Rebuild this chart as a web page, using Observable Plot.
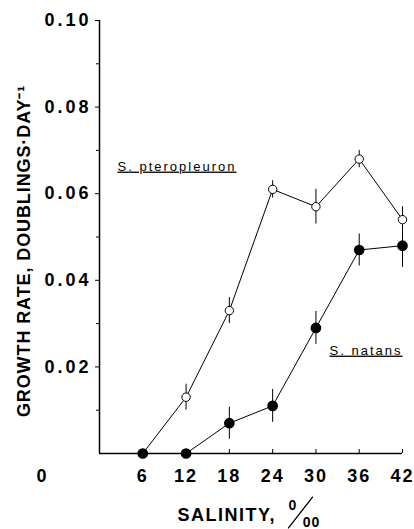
<!DOCTYPE html>
<html><head><meta charset="utf-8">
<script src="https://cdn.jsdelivr.net/npm/d3@7"></script>
<script src="https://cdn.jsdelivr.net/npm/@observablehq/plot@0.6"></script>
<style>
html,body{margin:0;padding:0;background:#fff;}
svg text{font-family:"Liberation Sans",Arial,sans-serif;}
g[aria-label="y-axis tick label"] text{letter-spacing:3px;}
g[aria-label="x-axis tick label"] text{letter-spacing:2px;}
</style></head><body><div id="chart"></div>
<script>
// Salinity (‰) and growth rate (doublings·day⁻¹)
const salinity = [6, 12, 18, 24, 30, 36, 42];
const pteroRate = [0, 0.013, 0.033, 0.061, 0.057, 0.068, 0.054];
const pteroErr  = [0, 0.003, 0.003, 0.002, 0.004, 0.002, 0.003];
const natansRate = [0, 0, 0.007, 0.011, 0.029, 0.047, 0.048];
const natansErr  = [0, 0, 0.0037, 0.0038, 0.0038, 0.0037, 0.005];
const seriesNames = ["S. pteropleuron", "S. natans"];
const xTicks = [6, 12, 18, 24, 30, 36, 42];
const xZero = [0];
const yMajor = [0.02, 0.04, 0.06, 0.08, 0.10];
const yMinor = [0.01, 0.03, 0.05, 0.07, 0.09];
const yTitle = "GROWTH RATE, DOUBLINGS·DAY⁻¹";
const xTitle = "SALINITY,";
const xUnitTop = "0";
const xUnitBottom = "00";

const ptero = salinity.map((s, i) => ({s, v: pteroRate[i], e: pteroErr[i]}));
const natans = salinity.map((s, i) => ({s, v: natansRate[i], e: natansErr[i]}));

const font = {fontWeight: "bold", fill: "black", lineAnchor: "middle"};

const chart = Plot.plot({
  width: 414, height: 529,
  marginTop: 20, marginBottom: 76, marginLeft: 99, marginRight: 12,
  style: {fontFamily: "Liberation Sans, Arial, sans-serif", color: "black", background: "white", overflow: "visible"},
  x: {domain: [0, 42]},
  y: {domain: [0, 0.10]},
  marks: [
    Plot.ruleX([0], {y1: 0, y2: 0.1, strokeWidth: 1.5}),
    Plot.ruleY([0], {x1: 0, x2: 42, strokeWidth: 1.5}),
    Plot.tickX(xTicks, {x: d => d, insetTop: 429, strokeWidth: 1}),
    Plot.axisX({ticks: xTicks, tickSize: 0, tickPadding: 16, fontSize: 18, fontWeight: "bold", tickFormat: d => String(d), label: null}),
    Plot.text(xZero, {x: d => d, frameAnchor: "bottom", textAnchor: "middle", dx: -58, dy: 23, text: d => String(d), fontSize: 18, ...font}),
    Plot.axisY({ticks: yMajor, tickSize: 4, tickPadding: 4, fontSize: 18, fontWeight: "bold", tickFormat: d3.format(".2f"), label: null}),
    Plot.axisY({ticks: yMinor, tickSize: 3, tickFormat: () => "", label: null}),
    Plot.text([yTitle], {frameAnchor: "left", textAnchor: "middle", dx: -75, dy: 14, rotate: -90, fontSize: 18, ...font}),
    Plot.text([xTitle], {frameAnchor: "bottom-left", textAnchor: "start", dx: 78, dy: 62, fontSize: 18, ...font}),
    Plot.text([xUnitTop], {frameAnchor: "bottom-left", textAnchor: "middle", dx: 193, dy: 52, fontSize: 14, ...font}),
    Plot.vector([0], {frameAnchor: "bottom-left", dx: 201, dy: 59, length: 39, rotate: 38, anchor: "middle",
      shape: {draw(ctx, l) { ctx.moveTo(0, 0); ctx.lineTo(0, -l); }}, stroke: "black", strokeWidth: 1.3}),
    Plot.text([xUnitBottom], {frameAnchor: "bottom-left", textAnchor: "middle", dx: 212, dy: 69, fontSize: 14, ...font}),
    Plot.line(ptero, {x: "s", y: "v", stroke: "black", strokeWidth: 1}),
    Plot.line(natans, {x: "s", y: "v", stroke: "black", strokeWidth: 1}),
    Plot.ruleX(ptero.filter(d => d.e > 0), {x: "s", y1: d => d.v - d.e, y2: d => d.v + d.e, stroke: "black", strokeWidth: 1}),
    Plot.ruleX(natans.filter(d => d.e > 0), {x: "s", y1: d => d.v - d.e, y2: d => d.v + d.e, stroke: "black", strokeWidth: 1}),
    Plot.dot(ptero, {x: "s", y: "v", r: 4.2, fill: "white", stroke: "black", strokeWidth: 1}),
    Plot.dot(natans, {x: "s", y: "v", r: 4.6, fill: "black", stroke: "black"}),
    Plot.text([seriesNames[0]], {x: 2.5, y: 0.0663, textAnchor: "start", fontSize: 13, fill: "black"}),
    Plot.text([seriesNames[1]], {x: 42, y: 0.0238, textAnchor: "end", fontSize: 13, fill: "black"})
  ]
});
document.getElementById("chart").appendChild(chart);

d3.select(chart).selectAll("text").each(function() {
  const t = this.textContent;
  const s = d3.select(this);
  if (seriesNames.includes(t)) s.style("letter-spacing", "2px").style("text-decoration", "underline");
  else if (t === yTitle) s.style("letter-spacing", "0.9px");
  else if (t === xTitle) s.style("letter-spacing", "1.5px");
  else if (t === xUnitBottom) s.style("letter-spacing", "1px");
});
</script></body></html>
